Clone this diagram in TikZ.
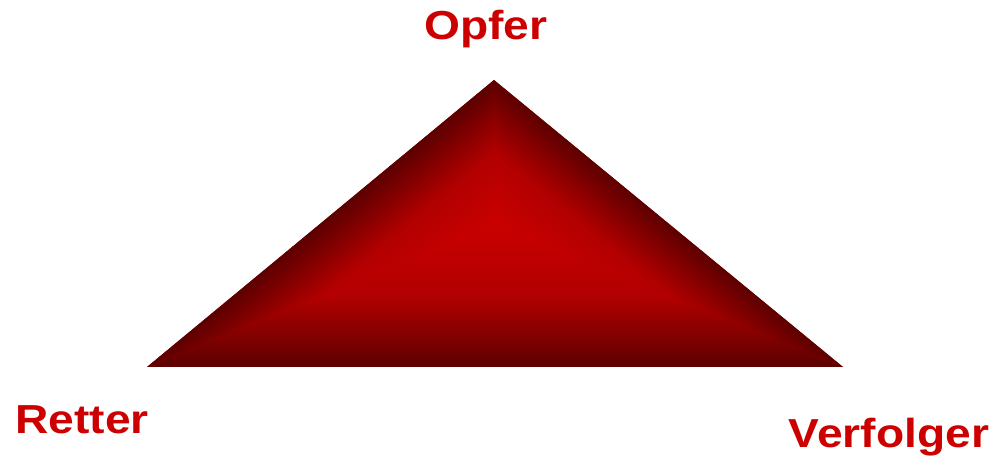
\documentclass[tikz,border=0pt]{standalone}
\usepackage{fontspec}
\setmainfont{Liberation Sans}

\definecolor{labelred}{HTML}{CC0000}
\definecolor{bevellt}{HTML}{CA0000}
\definecolor{bevelmd}{HTML}{B20000}
\definecolor{beveldm}{HTML}{880000}
\definecolor{beveldk}{HTML}{5C0000}

\pgfdeclarehorizontalshading{bevel}{100bp}{color(0bp)=(bevellt); color(20bp)=(bevellt);
  color(50bp)=(bevelmd); color(65bp)=(beveldm); color(80bp)=(beveldk); color(100bp)=(beveldk)}

\tikzset{
  rolelabel/.style={text=labelred, font=\bfseries\fontsize{40.5}{44}\selectfont,
    inner sep=0pt, anchor=base, xscale=1.14}
}

% one face of the triangle: corner, corner, centre, angle of the normal, distance
\newcommand{\bevelface}[5]{%
  \begin{scope}
    \clip (#3) -- (#1) -- (#2) -- cycle;
    \begin{scope}[shift={(#3)}, rotate=#4, xshift=#5/2, xscale=#5/60, yscale=20]
      \pgflowlevelsynccm
      \pgfuseshading{bevel}
    \end{scope}
  \end{scope}}

\begin{document}
\begin{tikzpicture}[x=1pt, y=1pt]
    \useasboundingbox (0,0) rectangle (1001,466);

    % Corners and centre of the gradient
    \coordinate (apex) at (494,386);
    \coordinate (lcorner) at (147,99);
    \coordinate (rcorner) at (843,99);
    \coordinate (centre) at (495,242.5);

    % Draw triangle
    \fill[bevelmd] (apex) -- (lcorner) -- (rcorner) -- cycle;
    \bevelface{lcorner}{rcorner}{centre}{-90}{143.5}
    \bevelface{lcorner}{apex}{centre}{129.6}{111.2}
    \bevelface{rcorner}{apex}{centre}{50.57}{110.2}

    % Labels
    \node[rolelabel] (opfer) at (486,426) {Opfer};
    \node[rolelabel] (retter) at (82,33) {Retter};
    \node[rolelabel] (verfolger) at (889,19) {Verfolger};
\end{tikzpicture}
\end{document}
